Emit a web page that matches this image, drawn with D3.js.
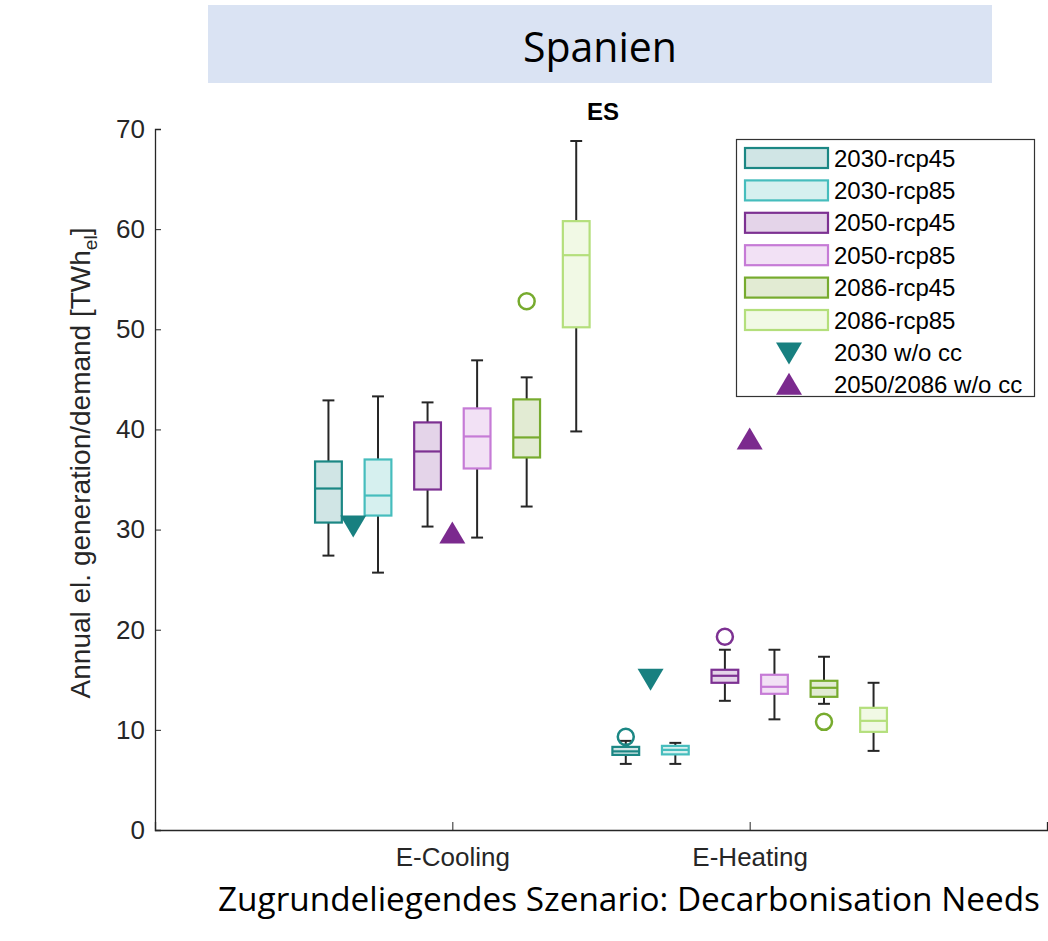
<!DOCTYPE html>
<html>
<head>
<meta charset="utf-8">
<script src="https://cdn.jsdelivr.net/npm/d3@7"></script>
<style>
  html, body { margin: 0; padding: 0; background: #ffffff; }
  svg { display: block; }
</style>
</head>
<body>
<svg id="chart" width="1048" height="941"></svg>
<script>
// Categories and scenarios
const categories = ["E-Cooling", "E-Heating"];
const scenarios = ["2030-rcp45", "2030-rcp85", "2050-rcp45", "2050-rcp85", "2086-rcp45", "2086-rcp85"];
const yTicks = [0, 10, 20, 30, 40, 50, 60, 70];

// Box statistics per scenario: [lower whisker, Q1, median, Q3, upper whisker]
const coolingStats = [
  [27.4, 30.7, 34.1, 36.8, 42.9],
  [25.7, 31.4, 33.4, 37.0, 43.3],
  [30.3, 34.0, 37.8, 40.7, 42.7],
  [29.2, 36.1, 39.3, 42.1, 46.9],
  [32.3, 37.2, 39.2, 43.0, 45.2],
  [39.8, 50.2, 57.4, 60.8, 68.8]
];
const heatingStats = [
  [6.6, 7.5, 7.85, 8.3, 8.9],
  [6.6, 7.55, 8.0, 8.4, 8.7],
  [12.9, 14.7, 15.4, 16.0, 18.0],
  [11.05, 13.6, 14.3, 15.5, 18.0],
  [12.6, 13.3, 14.2, 14.9, 17.3],
  [7.9, 9.8, 10.9, 12.2, 14.7]
];
// Outliers: [category index, scenario index, value]
const outliers = [
  [0, 4, 52.8],
  [1, 0, 9.3],
  [1, 2, 19.3],
  [1, 4, 10.8]
];
// Reference runs without climate change
const noCc2030 = [30.3, 15.0];
const noCc2050 = [29.7, 39.1];

const strokeColors = ["#1b8784", "#46bdbd", "#7d3192", "#c67bd6", "#77ab2e", "#b4df7c"];
const fillColors   = ["#d0e5e5", "#d6f0ef", "#e4d4e9", "#f2e1f5", "#e2ebd3", "#f1f9e5"];
const markerDown = "#188080";
const markerUp = "#7b2a8e";

const svg = d3.select("#chart");
const capFont = "'Open Sans', 'Noto Sans', sans-serif";

// Header band
svg.append("rect").attr("x", 208).attr("y", 5).attr("width", 784).attr("height", 78).attr("fill", "#dae3f3");
svg.append("text").attr("x", 600).attr("y", 62).attr("text-anchor", "middle")
  .attr("font-family", capFont).attr("font-size", 42).attr("fill", "#000")
  .attr("textLength", 154).attr("lengthAdjust", "spacingAndGlyphs")
  .text("Spanien");

// Footer caption
svg.append("text").attr("x", 629).attr("y", 911).attr("text-anchor", "middle")
  .attr("font-family", capFont).attr("font-size", 33.5).attr("fill", "#000")
  .attr("textLength", 822).attr("lengthAdjust", "spacingAndGlyphs")
  .text("Zugrundeliegendes Szenario: Decarbonisation Needs");

const x = d3.scaleLinear().domain([0, 3]).range([155, 1047]);
const y = d3.scaleLinear().domain([0, 70]).range([830, 129]);

const font = "'Liberation Sans', Arial, sans-serif";
const axisColor = "#262626";

// Y axis (ticks pointing inward)
const yAxis = svg.append("g").attr("transform", `translate(${x(0)},0)`)
  .call(d3.axisLeft(y).tickValues(yTicks).tickSize(-6).tickPadding(10).tickFormat(d3.format("d")));
yAxis.select(".domain").attr("stroke", axisColor).attr("stroke-width", 1.3);
yAxis.selectAll(".tick line").attr("stroke", axisColor);
yAxis.selectAll(".tick text").attr("font-family", font).attr("font-size", 26).attr("fill", "#262626");

// X axis (ticks pointing inward)
const xAxis = svg.append("g").attr("transform", `translate(0,${y(0)})`)
  .call(d3.axisBottom(x).tickValues([1, 2]).tickSize(-8).tickPadding(18).tickFormat((d) => categories[d - 1]));
xAxis.select(".domain").attr("stroke", axisColor).attr("stroke-width", 1.3);
xAxis.selectAll(".tick line").attr("stroke", axisColor);
xAxis.selectAll(".tick text").attr("font-family", font).attr("font-size", 26).attr("fill", "#262626");

// Y axis title
svg.append("text")
  .attr("transform", `translate(90,463) rotate(-90)`)
  .attr("text-anchor", "middle").attr("font-family", font).attr("font-size", 28).attr("fill", "#262626")
  .call((t) => {
    t.append("tspan").text("Annual el. generation/demand [TWh");
    t.append("tspan").attr("font-size", 19).attr("dy", 7).text("el");
    t.append("tspan").attr("dy", -7).text("]");
  });

// Axes title
svg.append("text").attr("x", 603).attr("y", 120).attr("text-anchor", "middle")
  .attr("font-family", font).attr("font-weight", "bold").attr("font-size", 24).attr("fill", "#000")
  .text("ES");

// Boxplots
const step = 1 / 6;
const boxW = 0.09;
const capW = 0.04;
const plot = svg.append("g");
const allStats = [coolingStats, heatingStats];

allStats.forEach((stats, ci) => {
  stats.forEach((s, si) => {
    const cx = ci + 1 + (si - 2.5) * step;
    const g = plot.append("g");
    const [lo, q1, med, q3, hi] = s;
    // whiskers
    g.append("line").attr("x1", x(cx)).attr("x2", x(cx)).attr("y1", y(q3)).attr("y2", y(hi))
      .attr("stroke", axisColor).attr("stroke-width", 2);
    g.append("line").attr("x1", x(cx)).attr("x2", x(cx)).attr("y1", y(q1)).attr("y2", y(lo))
      .attr("stroke", axisColor).attr("stroke-width", 2);
    [lo, hi].forEach((v) => {
      g.append("line").attr("x1", x(cx - capW / 2)).attr("x2", x(cx + capW / 2)).attr("y1", y(v)).attr("y2", y(v))
        .attr("stroke", axisColor).attr("stroke-width", 2);
    });
    // box
    g.append("rect").attr("x", x(cx - boxW / 2)).attr("y", y(q3))
      .attr("width", x(cx + boxW / 2) - x(cx - boxW / 2)).attr("height", y(q1) - y(q3))
      .attr("fill", fillColors[si]).attr("stroke", strokeColors[si]).attr("stroke-width", 2.2);
    g.append("line").attr("x1", x(cx - boxW / 2)).attr("x2", x(cx + boxW / 2)).attr("y1", y(med)).attr("y2", y(med))
      .attr("stroke", strokeColors[si]).attr("stroke-width", 2.2);
  });
});

// Outlier circles
outliers.forEach(([ci, si, v]) => {
  const cx = ci + 1 + (si - 2.5) * step;
  plot.append("circle").attr("cx", x(cx)).attr("cy", y(v)).attr("r", 8)
    .attr("fill", "none").attr("stroke", strokeColors[si]).attr("stroke-width", 2.5);
});

// Triangle markers (centered on bounding box)
function tri(cxp, cyp, w, h, down) {
  const hw = w / 2, hh = h / 2;
  return down
    ? `M${cxp - hw},${cyp - hh}L${cxp + hw},${cyp - hh}L${cxp},${cyp + hh}Z`
    : `M${cxp - hw},${cyp + hh}L${cxp + hw},${cyp + hh}L${cxp},${cyp - hh}Z`;
}
noCc2030.forEach((v, ci) => {
  const cx = ci + 1 - 2 * step;
  plot.append("path").attr("d", tri(x(cx), y(v), 26, 22, true)).attr("fill", markerDown);
});
noCc2050.forEach((v, ci) => {
  const cx = ci + 1;
  plot.append("path").attr("d", tri(x(cx), y(v), 26, 22, false)).attr("fill", markerUp);
});

// Legend
const legend = svg.append("g");
legend.append("rect").attr("x", 736.5).attr("y", 139.5).attr("width", 298).attr("height", 257)
  .attr("fill", "#fff").attr("stroke", "#333").attr("stroke-width", 1.2);
const rowY = (i) => 158 + i * 32.4;
scenarios.forEach((name, i) => {
  legend.append("rect").attr("x", 745).attr("y", rowY(i) - 10).attr("width", 83).attr("height", 20)
    .attr("fill", fillColors[i]).attr("stroke", strokeColors[i]).attr("stroke-width", 2.2);
  legend.append("text").attr("x", 834).attr("y", rowY(i) + 8.5)
    .attr("font-family", font).attr("font-size", 24).attr("fill", "#000").text(name);
});
const extras = [["2030 w/o cc", markerDown, true], ["2050/2086 w/o cc", markerUp, false]];
extras.forEach(([name, col, down], j) => {
  const i = 6 + j;
  legend.append("path").attr("d", tri(789, rowY(i) + (down ? 1 : -1), 26, 22, down)).attr("fill", col);
  legend.append("text").attr("x", 834).attr("y", rowY(i) + 8.5)
    .attr("font-family", font).attr("font-size", 24).attr("fill", "#000").text(name);
});
</script>
</body>
</html>
